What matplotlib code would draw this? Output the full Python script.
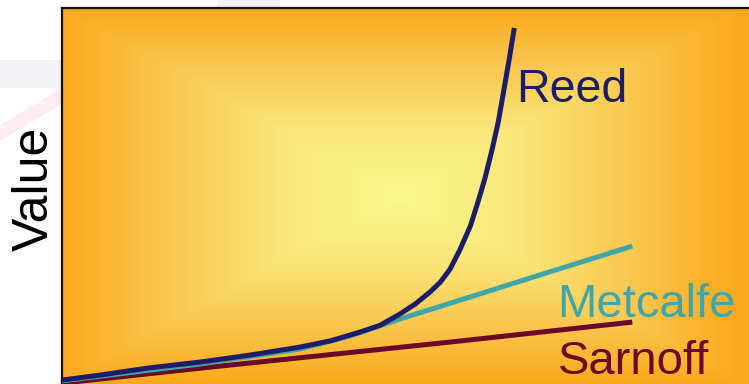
import numpy as np
import matplotlib
matplotlib.use('Agg')
import matplotlib.pyplot as plt
from matplotlib.colors import LinearSegmentedColormap
from matplotlib.patches import Rectangle, Polygon

plt.rcParams['font.family'] = ['Liberation Sans', 'DejaVu Sans']

# network size vs. value for the three laws
sarnoff_x = [0, 19.8, 55.6, 81.7]
sarnoff_y = [2.3, 6.2, 13.0, 18.2]

metcalfe_x = [0, 19.8, 34.1, 41.3, 48.4, 55.6, 68.5, 81.7]
metcalfe_y = [2.9, 7.3, 11.2, 14.6, 19.0, 23.1, 30.5, 38.0]

reed_x = [0, 5.4, 12.6, 19.8, 26.9, 34.1, 38.4, 42.7, 45.6, 48.4, 50.6, 52.7, 54.2,
          55.6, 57.0, 58.5, 59.6, 60.6, 61.6, 62.5, 63.3, 64.0, 64.8]
reed_y = [3.1, 4.4, 6.3, 7.8, 9.6, 11.7, 13.3, 15.6, 17.4, 20.3, 22.9, 26.0, 28.6,
          32.0, 37.0, 43.2, 49.5, 55.7, 63.0, 70.3, 78.6, 85.9, 94.8]

W, H = 749, 384
fig = plt.figure(figsize=(W / 100, H / 100), dpi=100)
fig.patch.set_facecolor('white')

# faint background decoration behind the chart
fig.add_artist(Rectangle((0, 1 - 88 / H), 62 / W, 28 / H, transform=fig.transFigure,
                         facecolor='#F1F1F6', edgecolor='none', zorder=0))
fig.add_artist(Rectangle((218 / W, 1 - 8 / H), 62 / W, 8 / H, transform=fig.transFigure,
                         facecolor='#F1F1F6', edgecolor='none', zorder=0))
fig.add_artist(Polygon([(0, 1 - 125 / H), (62 / W, 1 - 88 / H), (62 / W, 1 - 104 / H),
                        (0, 1 - 141 / H)], closed=True, transform=fig.transFigure,
                       facecolor='#FDEDF1', edgecolor='none', zorder=0))

left, right, top, bottom = 62, 760, 8, 392
ax = fig.add_axes([left / W, (H - bottom) / H, (right - left) / W, (bottom - top) / H])
ax.set_xlim(0, 100)
ax.set_ylim(0, 100)

# rectangular centre-out gradient fill
gx = np.arange(left, right) + 0.5
gy = np.arange(top, bottom) + 0.5
X, Y = np.meshgrid(gx, gy)
cx, cy, hw, hh = 400, 195, 338, 187
t = np.clip(np.maximum(np.abs(X - cx) / hw, np.abs(Y - cy) / hh), 0, 1)
cmap = LinearSegmentedColormap.from_list(
    'bg', [(0, '#FAF88C'), (0.35, '#F9E679'), (0.7, '#F9C64E'), (1, '#FBA91C')])
ax.imshow(t, cmap=cmap, vmin=0, vmax=1, extent=(0, 100, 0, 100), origin='upper',
          aspect='auto', zorder=0, interpolation='bilinear')

ax.plot(sarnoff_x, sarnoff_y, color='#6B0A28', lw=3.6, solid_capstyle='butt', zorder=2)
ax.plot(metcalfe_x, metcalfe_y, color='#3FA5A8', lw=3.6, solid_capstyle='butt', zorder=3)
ax.plot(reed_x, reed_y, color='#1C1C68', lw=3.6, solid_capstyle='butt', zorder=4)

ax.text(65.0, 75.5, 'Reed', color='#1C1C68', fontsize=33.5, va='baseline', ha='left')
ax.text(70.9, 19.5, 'Metcalfe', color='#3FA5A8', fontsize=34, va='baseline', ha='left')
ax.text(71.0, 4.8, 'Sarnoff', color='#6B0A28', fontsize=34, va='baseline', ha='left')

ax.set_xticks([])
ax.set_yticks([])
ax.spines['right'].set_visible(False)
ax.spines['bottom'].set_visible(False)
for s in ('left', 'top'):
    ax.spines[s].set_color('#111111')
    ax.spines[s].set_linewidth(1.6)

ax.set_ylabel('Value', fontsize=36, va='center')
ax.yaxis.set_label_coords((35 - left) / (right - left), (bottom - 189) / (bottom - top))

plt.savefig('out.png', dpi=100)
